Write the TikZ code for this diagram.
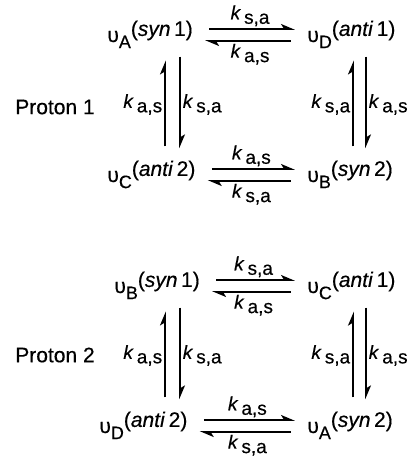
\documentclass[tikz,border=0pt]{standalone}
\usepackage{fontspec}
\setmainfont[FakeBold=0.4]{Liberation Sans}
\usetikzlibrary{arrows.meta,positioning}

% conformer and rate constant
\newcommand{\conf}[3]{υ\raisebox{-0.55ex}{\small #1}\raisebox{0.55ex}{(\textit{#2}\,#3)}}
\newcommand{\kr}[2]{\textit{k}\,\raisebox{-0.45ex}{#1,#2}}

\tikzset{
  state/.style={inner sep=1pt, anchor=base west},
  harp/.style={line width=.8pt, -{Stealth[left,length=6pt,width=5pt,inset=1.5pt]}},
  hshort/.style={shorten <=7pt, shorten >=5pt},
  rate/.style={inner sep=1pt, font=\fontsize{9.5}{11}\selectfont}
}

\begin{document}
\begin{tikzpicture}[x=0.5pt,y=-0.5pt,font=\fontsize{10.5}{12}\selectfont]
\useasboundingbox (0,0) rectangle (408,457);

% columns of the vertical arrows
\coordinate (lu) at (165,0);
\coordinate (ld) at (180,0);
\coordinate (ru) at (353,0);
\coordinate (rd) at (366,0);

% Proton 1
\node (p1) at (55,107) {Proton 1};
\node[state] (vA1) at (105,42) {\conf{A}{syn}{1}};
\node[state] (vD1) at (305,42) {\conf{D}{anti}{1}};
\node[state] (vC1) at (105,182) {\conf{C}{anti}{2}};
\node[state] (vB1) at (305,182) {\conf{B}{syn}{2}};

\draw[harp,hshort] ([yshift=6.5pt]vA1.base east) -- node[rate,above] {\kr{s}{a}} ([yshift=6.5pt]vD1.base west);
\draw[harp,hshort] ([yshift=.5pt]vD1.base west) -- node[rate,below] {\kr{a}{s}} ([yshift=.5pt]vA1.base east);
\draw[harp,hshort] ([yshift=6.5pt]vC1.base east) -- node[rate,above] {\kr{a}{s}} ([yshift=6.5pt]vB1.base west);
\draw[harp,hshort] ([yshift=.5pt]vB1.base west) -- node[rate,below] {\kr{s}{a}} ([yshift=.5pt]vC1.base east);

\draw[harp,shorten <=6pt,shorten >=5pt] (vC1.north -| lu) -- node[rate,left] {\kr{a}{s}} (vA1.south -| lu);
\draw[harp,shorten <=3pt,shorten >=5pt] (vA1.south -| ld) -- node[rate,right] {\kr{s}{a}} (vC1.north -| ld);
\draw[harp,shorten <=6pt,shorten >=5pt] (vB1.north -| ru) -- node[rate,left] {\kr{s}{a}} (vD1.south -| ru);
\draw[harp,shorten <=3pt,shorten >=5pt] (vD1.south -| rd) -- node[rate,right] {\kr{a}{s}} (vB1.north -| rd);

% Proton 2
\node (p2) at (55,355) {Proton 2};
\node[state] (vB2) at (112,293) {\conf{B}{syn}{1}};
\node[state] (vC2) at (305,293) {\conf{C}{anti}{1}};
\node[state] (vD2) at (97,433) {\conf{D}{anti}{2}};
\node[state] (vA2) at (305,433) {\conf{A}{syn}{2}};

\draw[harp,hshort] ([yshift=6.5pt]vB2.base east) -- node[rate,above] {\kr{s}{a}} ([yshift=6.5pt]vC2.base west);
\draw[harp,hshort] ([yshift=.5pt]vC2.base west) -- node[rate,below] {\kr{a}{s}} ([yshift=.5pt]vB2.base east);
\draw[harp,hshort] ([yshift=6.5pt]vD2.base east) -- node[rate,above] {\kr{a}{s}} ([yshift=6.5pt]vA2.base west);
\draw[harp,hshort] ([yshift=.5pt]vA2.base west) -- node[rate,below] {\kr{s}{a}} ([yshift=.5pt]vD2.base east);

\draw[harp,shorten <=6pt,shorten >=5pt] (vD2.north -| lu) -- node[rate,left] {\kr{a}{s}} (vB2.south -| lu);
\draw[harp,shorten <=3pt,shorten >=5pt] (vB2.south -| ld) -- node[rate,right] {\kr{s}{a}} (vD2.north -| ld);
\draw[harp,shorten <=6pt,shorten >=5pt] (vA2.north -| ru) -- node[rate,left] {\kr{s}{a}} (vC2.south -| ru);
\draw[harp,shorten <=3pt,shorten >=5pt] (vC2.south -| rd) -- node[rate,right] {\kr{a}{s}} (vA2.north -| rd);
\end{tikzpicture}
\end{document}
